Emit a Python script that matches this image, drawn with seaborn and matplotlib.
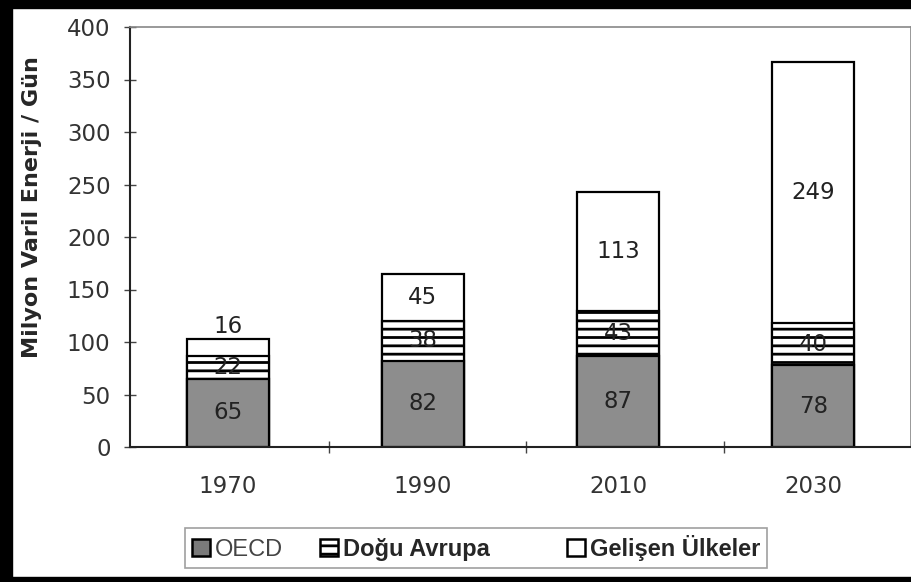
import matplotlib
matplotlib.use("Agg")
import matplotlib.pyplot as plt
import seaborn as sns
import pandas as pd
from matplotlib.patches import Patch, Rectangle
from matplotlib.ticker import FixedLocator

# data
years = ["1970", "1990", "2010", "2030"]
oecd = [65, 82, 87, 78]
dogu = [22, 38, 43, 40]
gelisen = [16, 45, 113, 249]

df = pd.DataFrame({"Yil": years, "OECD": oecd, "Dogu": dogu, "Gelisen": gelisen})
df["mid"] = df["OECD"] + df["Dogu"]
df["top"] = df["mid"] + df["Gelisen"]

sns.set_style("white")
plt.rcParams["font.family"] = ["DejaVu Sans"]
plt.rcParams["hatch.linewidth"] = 2.0

fig = plt.figure(figsize=(9.12, 5.82), dpi=100)
ax = fig.add_axes([130 / 912, 1 - 447 / 582, 781 / 912, 420 / 582])

bw = 0.42
# stacked by overdrawing cumulative totals
sns.barplot(data=df, x="Yil", y="top", color="white", saturation=1, width=bw,
            edgecolor="black", linewidth=1.6, ax=ax)
sns.barplot(data=df, x="Yil", y="mid", color="white", saturation=1, width=bw,
            edgecolor="black", linewidth=1.6, hatch="--", ax=ax)
sns.barplot(data=df, x="Yil", y="OECD", color="#8d8d8d", saturation=1, width=bw,
            edgecolor="black", linewidth=1.6, ax=ax)

# segment labels
lab = dict(ha="center", va="center", fontsize=16.5, color="#222222")
for i in range(len(years)):
    ax.text(i, oecd[i] / 2, str(oecd[i]), **lab)
    ax.text(i, oecd[i] + dogu[i] / 2, str(dogu[i]), **lab)
    if gelisen[i] < 25:
        ax.text(i, df["top"][i] + 12, str(gelisen[i]), **lab)
    else:
        ax.text(i, df["mid"][i] + gelisen[i] / 2, str(gelisen[i]), **lab)

ax.set_xlim(-0.5, 3.5)
ax.set_ylim(0, 400)
ax.set_yticks(range(0, 401, 50))
ax.xaxis.set_minor_locator(FixedLocator([0.52, 1.53, 2.54]))
ax.tick_params(axis="y", direction="inout", length=8, width=1, color="#444444",
               labelsize=16.5, labelcolor="#333333", pad=10, left=True)
ax.tick_params(axis="x", which="major", length=0, labelsize=16.5,
               labelcolor="#333333", pad=20)
ax.tick_params(axis="x", which="minor", direction="inout", length=8, width=1,
               color="#444444", bottom=True)
ax.set_xlabel("")
ax.set_ylabel("Milyon Varil Enerji / Gün", fontsize=16, fontweight="bold")
ax.yaxis.set_label_coords(-0.113, 0.571)

for s in ["left", "bottom"]:
    ax.spines[s].set_color("#222222")
    ax.spines[s].set_linewidth(1.5)
for s in ["top", "right"]:
    ax.spines[s].set_color("#888888")
    ax.spines[s].set_linewidth(1.2)

handles = [
    Patch(facecolor="#7a7a7a", edgecolor="black", linewidth=1.8),
    Patch(facecolor="white", edgecolor="black", linewidth=1.8, hatch="--"),
    Patch(facecolor="white", edgecolor="black", linewidth=1.8),
]
leg = fig.legend(handles, ["OECD", "Doğu Avrupa      ", "Gelişen Ülkeler"],
                 loc="center", bbox_to_anchor=(476 / 912, 1 - 548 / 582),
                 ncol=3, frameon=True, fancybox=False,
                 prop={"family": "Liberation Sans", "size": 17},
                 edgecolor="#888888", handlelength=0.75, handleheight=0.75,
                 handletextpad=0.2, columnspacing=1.6, borderpad=0.3,
                 borderaxespad=0)
leg.get_frame().set_linewidth(1.2)
texts = leg.get_texts()
texts[0].set_color("#444444")
texts[1].set_fontweight("bold")
texts[2].set_fontweight("bold")

# black frame around the scanned figure
fig.patches.append(Rectangle((0, 0), 12 / 912, 1, transform=fig.transFigure,
                             color="black", zorder=10))
fig.patches.append(Rectangle((0, 1 - 8 / 582), 1, 8 / 582, transform=fig.transFigure,
                             color="black", zorder=10))
fig.patches.append(Rectangle((0, 0), 1, 5 / 582, transform=fig.transFigure,
                             color="black", zorder=10))

fig.savefig("out.png", dpi=100)
